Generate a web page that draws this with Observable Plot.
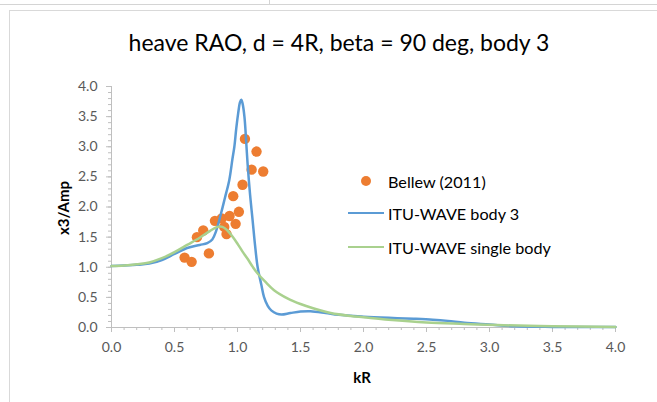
<!DOCTYPE html>
<html><head><meta charset="utf-8">
<script src="https://cdn.jsdelivr.net/npm/d3@7"></script>
<script src="https://cdn.jsdelivr.net/npm/@observablehq/plot@0.6"></script>
<style>
body{margin:0;background:#fff;font-family:Lato,"Open Sans",sans-serif;}
#wrap{position:relative;width:657px;height:402px;overflow:hidden;background:#fff;}
#topline{position:absolute;left:0;top:4px;width:657px;height:1px;background:#d4d4d4;}
#topv{position:absolute;left:269px;top:0;width:1px;height:4px;background:#d4d4d4;}
#box{position:absolute;left:9px;top:10px;width:700px;height:420px;border:1px solid #d9d9d9;box-sizing:border-box;}
#title{position:absolute;left:339px;top:42px;transform:translate(-50%,-50%);font-size:23px;color:#000;white-space:nowrap;}
#ylab{position:absolute;left:63px;top:208px;transform:translate(-50%,-50%) rotate(-90deg);font-weight:bold;font-size:15px;color:#000;white-space:nowrap;}
#xlab{position:absolute;left:362px;top:377px;transform:translate(-50%,-50%);font-weight:bold;font-size:15px;color:#000;}
.leg{position:absolute;left:388px;font-size:16.2px;color:#000;transform:translateY(-50%);white-space:nowrap;}
.sw{position:absolute;}
#plot{position:absolute;left:0;top:0;}
</style></head><body>
<div id="wrap">
<div id="topline"></div><div id="topv"></div>
<div id="box"></div>
<div id="plot"></div>
<div id="title"></div>
<div id="ylab"></div>
<div id="xlab"></div>
<div id="legend"></div>
</div>
<script>
const titleText = "heave RAO, d = 4R, beta = 90 deg, body 3";
const xLabel = "kR";
const yLabel = "x3/Amp";
const seriesNames = ["Bellew (2011)", "ITU-WAVE body 3", "ITU-WAVE single body"];
const seriesColors = ["#ED7D31", "#5B9BD5", "#A9D18E"];

const bellewKR  = [0.58, 0.636, 0.678, 0.728, 0.773, 0.821, 0.875, 0.895, 0.913, 0.937, 0.966, 0.985, 1.011, 1.04, 1.059, 1.112, 1.151, 1.204];
const bellewAmp = [1.16, 1.09, 1.50, 1.61, 1.23, 1.77, 1.81, 1.67, 1.55, 1.85, 2.18, 1.72, 1.92, 2.37, 3.13, 2.62, 2.92, 2.59];

const body3KR  = [0.0, 0.1, 0.2, 0.3, 0.4, 0.5, 0.6, 0.7, 0.76, 0.80, 0.83, 0.87, 0.90, 0.935, 0.96, 0.975, 0.99, 1.005, 1.02, 1.03, 1.04, 1.055, 1.07, 1.08, 1.10, 1.12, 1.14, 1.16, 1.19, 1.21, 1.24, 1.27, 1.31, 1.35, 1.42, 1.50, 1.58, 1.70, 1.80, 2.00, 2.20, 2.40, 2.55, 2.67, 2.80, 3.00, 3.20, 3.50, 4.00];
const body3Amp = [1.02, 1.03, 1.04, 1.06, 1.12, 1.22, 1.32, 1.37, 1.40, 1.46, 1.60, 1.90, 2.15, 2.45, 2.80, 3.00, 3.30, 3.55, 3.74, 3.78, 3.72, 3.50, 3.05, 2.72, 2.20, 1.78, 1.35, 1.00, 0.70, 0.51, 0.36, 0.28, 0.23, 0.215, 0.24, 0.265, 0.27, 0.24, 0.21, 0.18, 0.16, 0.145, 0.13, 0.11, 0.08, 0.05, 0.02, 0.01, 0.01];

const singleKR  = [0.0, 0.1, 0.2, 0.3, 0.4, 0.5, 0.6, 0.7, 0.78, 0.84, 0.88, 0.92, 0.96, 1.00, 1.04, 1.08, 1.12, 1.16, 1.22, 1.29, 1.40, 1.50, 1.60, 1.74, 1.90, 2.00, 2.20, 2.50, 2.80, 3.06, 3.50, 4.00];
const singleAmp = [1.02, 1.03, 1.05, 1.08, 1.15, 1.25, 1.37, 1.49, 1.60, 1.67, 1.67, 1.61, 1.51, 1.39, 1.26, 1.14, 1.01, 0.895, 0.76, 0.62, 0.48, 0.39, 0.32, 0.24, 0.19, 0.17, 0.13, 0.085, 0.06, 0.04, 0.02, 0.01];

const majorTicks = [0, 0.5, 1, 1.5, 2, 2.5, 3, 3.5, 4];
const minorTicks = d3.range(0, 41).map(i => i / 10);

const bellew = bellewKR.map((k, i) => ({kR: k, amp: bellewAmp[i]}));
const body3 = body3KR.map((k, i) => ({kR: k, amp: body3Amp[i]}));
const single = singleKR.map((k, i) => ({kR: k, amp: singleAmp[i]}));

const axisColor = "#bfbfbf";
const plot = Plot.plot({
  width: 657, height: 402,
  marginLeft: 111, marginRight: 42, marginTop: 86, marginBottom: 75,
  x: {domain: [0, 4]},
  y: {domain: [0, 4]},
  style: {fontFamily: "Lato, 'Open Sans', sans-serif", fontSize: "14px", color: "#595959", background: "transparent", overflow: "visible"},
  marks: [
    Plot.axisY(minorTicks, {tickSize: 3, tickFormat: () => "", label: null, stroke: axisColor}),
    Plot.axisX(minorTicks, {tickSize: 3, tickFormat: () => "", label: null, stroke: axisColor}),
    Plot.axisY(majorTicks, {tickSize: 5, tickPadding: 9, tickFormat: d => d.toFixed(1), label: null, stroke: axisColor, fill: "#595959"}),
    Plot.axisX(majorTicks, {tickSize: 5, tickPadding: 10, tickFormat: d => d.toFixed(1), label: null, stroke: axisColor, fill: "#595959"}),
    Plot.ruleX([0], {stroke: axisColor}),
    Plot.ruleY([0], {stroke: axisColor}),
    Plot.dot(bellew, {x: "kR", y: "amp", r: 5.2, fill: seriesColors[0], stroke: "none"}),
    Plot.line(body3, {x: "kR", y: "amp", stroke: seriesColors[1], strokeWidth: 2.5, curve: "catmull-rom"}),
    Plot.line(single, {x: "kR", y: "amp", stroke: seriesColors[2], strokeWidth: 2.5, curve: "catmull-rom"})
  ]
});
document.getElementById("plot").appendChild(plot);
document.getElementById("title").textContent = titleText;
document.getElementById("xlab").textContent = xLabel;
document.getElementById("ylab").textContent = yLabel;

const legend = document.getElementById("legend");
const legY = [181, 213, 247];
seriesNames.forEach((name, i) => {
  const t = document.createElement("div");
  t.className = "leg"; t.style.top = legY[i] + "px"; t.textContent = name;
  legend.appendChild(t);
  const s = document.createElement("div");
  s.className = "sw";
  if (i === 0) {
    Object.assign(s.style, {left: "361px", top: (legY[i] - 5) + "px", width: "10px", height: "10px", borderRadius: "50%", background: seriesColors[i]});
  } else {
    Object.assign(s.style, {left: "348px", top: (legY[i] - 1.25) + "px", width: "36px", height: "2.5px", background: seriesColors[i]});
  }
  legend.appendChild(s);
});
</script>
</body></html>
